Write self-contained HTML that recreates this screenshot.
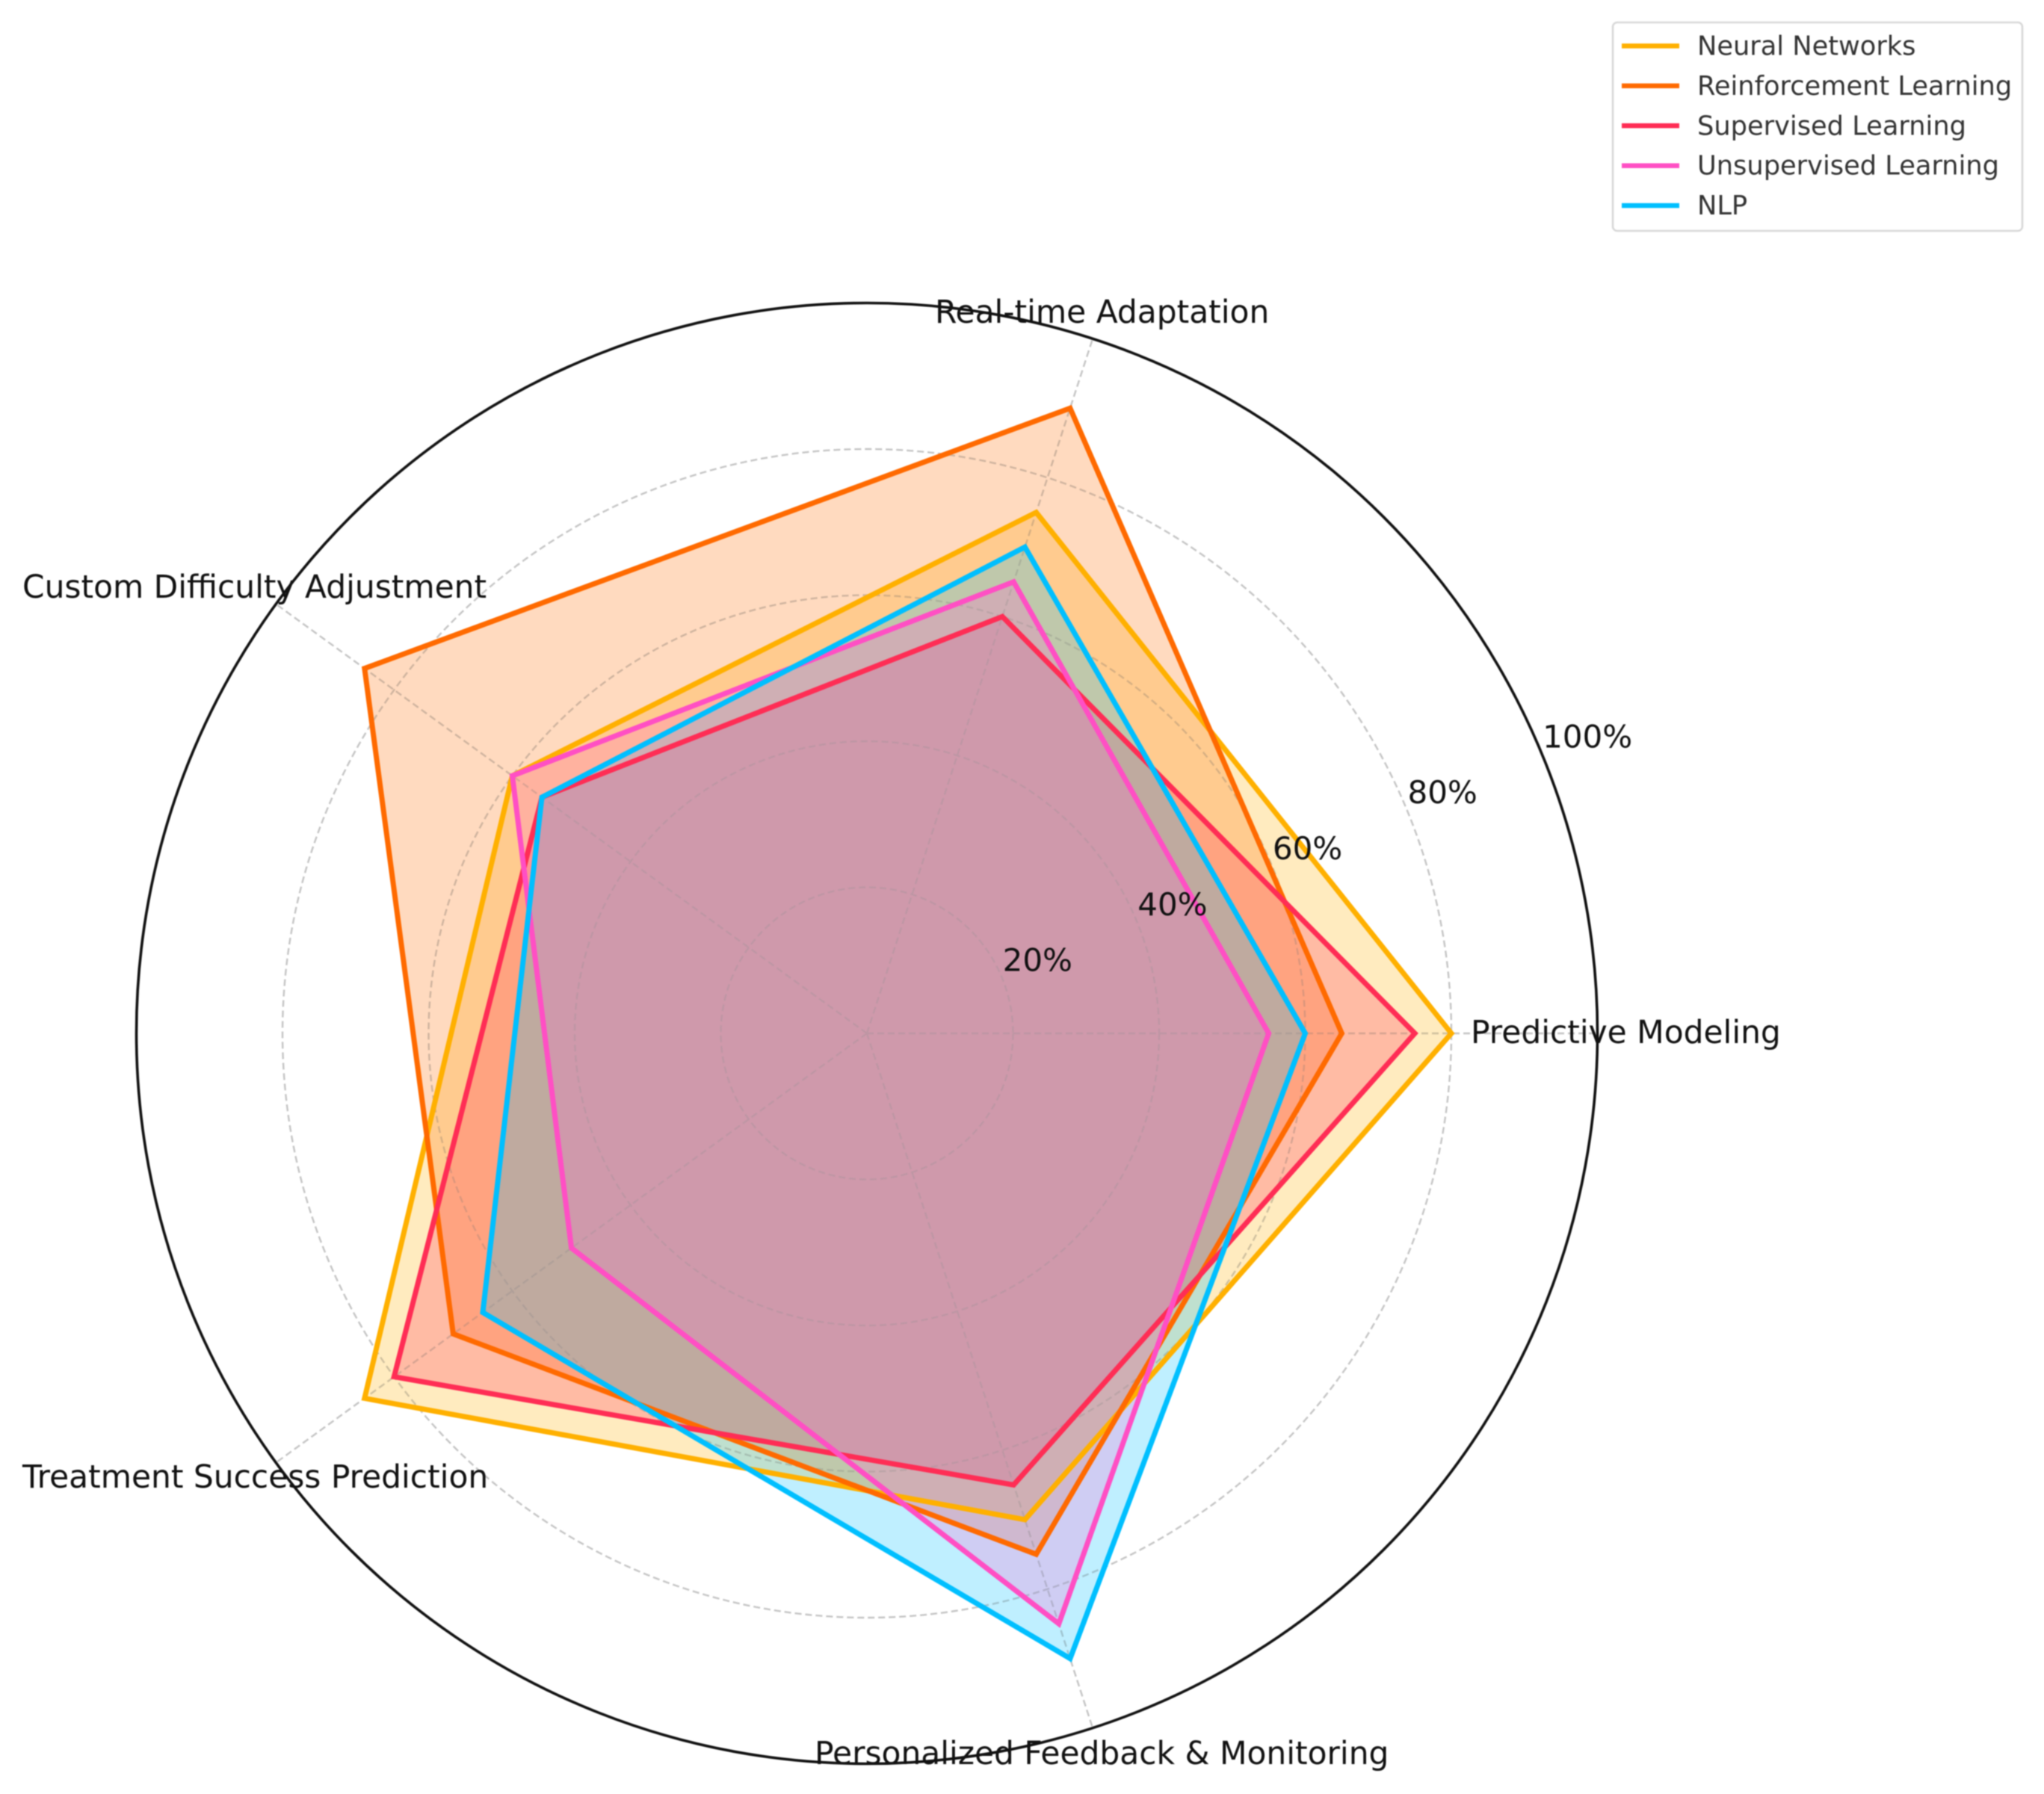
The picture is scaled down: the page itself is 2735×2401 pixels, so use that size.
<!DOCTYPE html>
<html>
<head>
<meta charset="utf-8">
<title>Radar chart</title>
<style>
html,body{margin:0;padding:0;background:#fff;width:2735px;height:2401px;overflow:hidden}
svg{display:block;filter:blur(0.8px)}
text{font-family:"DejaVu Sans","Liberation Sans",sans-serif}
</style>
</head>
<body>
<svg id="chart" xmlns="http://www.w3.org/2000/svg" width="2735" height="2401" viewBox="0 0 2735 2401"></svg>
<script>
const categories = ["Predictive Modeling", "Real-time Adaptation", "Custom Difficulty Adjustment", "Treatment Success Prediction", "Personalized Feedback & Monitoring"];
const seriesNames = ["Neural Networks", "Reinforcement Learning", "Supervised Learning", "Unsupervised Learning", "NLP"];
const neuralNetworks = [80, 75, 60, 85, 70];
const reinforcementLearning = [65, 90, 85, 70, 75];
const supervisedLearning = [75, 60, 55, 80, 65];
const unsupervisedLearning = [55, 65, 60, 50, 85];
const nlp = [60, 70, 55, 65, 90];
const radialTicks = [20, 40, 60, 80, 100];
const tickLabels = ["20%", "40%", "60%", "80%", "100%"];
const rMax = 100;

const seriesValues = [neuralNetworks, reinforcementLearning, supervisedLearning, unsupervisedLearning, nlp];
const seriesColors = ["#FFB000", "#FF6A00", "#FF2D55", "#FF4FC4", "#00BFFF"];
const fillColors = ["#FFB000", "#FF6A00", "#FF2D55", "#FF66D0", "#00BFFF"];
const fillOrder = [0, 1, 2, 4, 3];

const NS = "http://www.w3.org/2000/svg";
const svg = document.getElementById("chart");
const cx = 1160, cy = 1383, R = 977.5;
const labelBoxes = [
  {x: 1968, y: 1396},
  {x: 1251, y: 432},
  {x: 30, y: 800},
  {x: 30, y: 1991},
  {x: 1090, y: 2361}
];

function mk(tag, attrs, parent) {
  const el = document.createElementNS(NS, tag);
  for (const k in attrs) el.setAttribute(k, attrs[k]);
  (parent || svg).appendChild(el);
  return el;
}
function rScale(v) { return v / rMax * R; }
function angleOf(i) { return i / categories.length * 2 * Math.PI; }
function px(i, v) { return cx + rScale(v) * Math.cos(angleOf(i)); }
function py(i, v) { return cy - rScale(v) * Math.sin(angleOf(i)); }
function pointsFor(vals) {
  return vals.map(function (v, i) { return px(i, v).toFixed(1) + "," + py(i, v).toFixed(1); }).join(" ");
}
function slugOf(s) { return seriesNames[s].toLowerCase().replace(/\s+/g, "-"); }

function drawGrid(layer, color, opacity) {
  const gridGroup = mk("g", {opacity: opacity});
  
  
  radialTicks.slice(0, -1).forEach(function (t) {
    const c = mk("circle", {cx: cx, cy: cy, r: rScale(t), fill: "none", stroke: color, "stroke-width": 2.4, "stroke-dasharray": "9 5"}, gridGroup);
    
    
  });
  categories.forEach(function (name, i) {
    const l = mk("line", {x1: cx, y1: cy, x2: px(i, rMax), y2: py(i, rMax), stroke: color, "stroke-width": 2.4, "stroke-dasharray": "9 5"}, gridGroup);
    
    
  });
}

// grid beneath the fills
drawGrid('under', '#cccccc', 1);

// series fills
fillOrder.forEach(function (s) {
  const poly = mk("polygon", {points: pointsFor(seriesValues[s]), fill: fillColors[s], "fill-opacity": 0.25, stroke: "none"});
  
  
});

// faint grid overlay
drawGrid('over', '#b4b4b4', 0.25);

// series outlines
seriesValues.forEach(function (vals, s) {
  const poly = mk("polygon", {points: pointsFor(vals), fill: "none", stroke: seriesColors[s], "stroke-width": 7, "stroke-linejoin": "miter", "stroke-miterlimit": 10});
  
  
});

// outer spine
const spine = mk("circle", {cx: cx, cy: cy, r: R, fill: "none", stroke: "#111111", "stroke-width": 3.6});



// radial tick labels
const labelAngle = 22.5 * Math.PI / 180;
radialTicks.forEach(function (t, i) {
  const tx = mk("text", {x: cx + rScale(t) * Math.cos(labelAngle) + 1, y: cy - rScale(t) * Math.sin(labelAngle) - 8.5, "font-size": 42, fill: "#111111"});
  tx.textContent = tickLabels[i];
  
  
});

// category labels
categories.forEach(function (name, i) {
  const tx = mk("text", {x: labelBoxes[i].x, y: labelBoxes[i].y, "font-size": 42.35, fill: "#111111"});
  tx.textContent = name;
  
  
});

// legend
const legend = mk("g", {});


const frame = mk("rect", {x: 2158, y: 30, width: 548, height: 279, rx: 6, ry: 6, fill: "#ffffff", stroke: "#d8d8d8", "stroke-width": 2.6}, legend);


seriesNames.forEach(function (name, s) {
  const y = 61.5 + s * 53.4;
  const ln = mk("line", {x1: 2170, y1: y, x2: 2247, y2: y, stroke: seriesColors[s], "stroke-width": 6.5}, legend);
  
  
  const tx = mk("text", {x: 2271, y: y + 12, "font-size": 35.2, fill: "#333333"}, legend);
  tx.textContent = name;
  
  
});
</script>
</body>
</html>
